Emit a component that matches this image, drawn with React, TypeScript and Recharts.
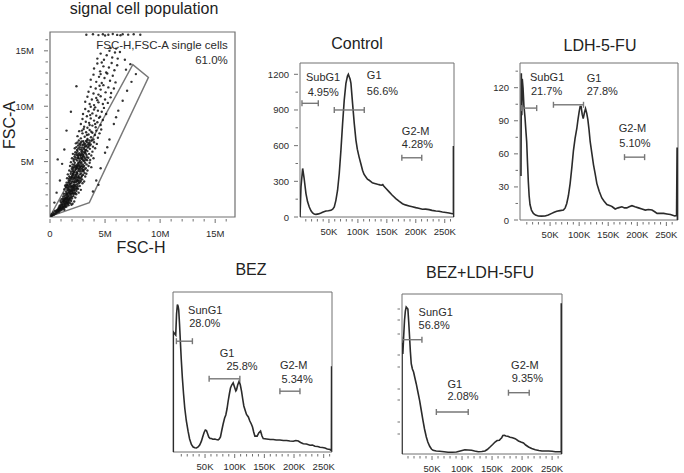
import React from 'react';
import { ComposedChart, Line, Scatter, XAxis, YAxis, ReferenceArea } from 'recharts';

const FONT = '"Liberation Sans", Arial, Helvetica, sans-serif';
const INK = '#2b2b2b';
const FRAME = '#707070';
const GATE = '#777777';

// ---- FSC-H (x, M) vs FSC-A (y, M) single-cell dots
const cells: [number, number][] = [
  [0.1,0.1],[0.2,0.12],[0.25,0.22],[0.35,0.2],[0.4,0.33],[0.5,0.3],[0.55,0.45],[0.62,0.38],[0.7,0.52],[0.78,0.44],
  [0.8,0.63],[0.88,0.55],[0.92,0.74],[1.0,0.62],[1.05,0.85],[1.12,0.7],[1.18,0.93],[1.25,0.8],[0.6,0.6],[0.72,0.7],
  [0.85,0.82],[0.95,0.92],[1.3,0.66],[1.4,0.9],[0.45,0.55],[0.3,0.4],[1.5,0.95],[0.15,0.25],
  [0.9,1.05],[1.0,1.3],[1.05,1.6],[1.1,1.15],[1.15,1.45],[1.2,1.85],[1.25,1.25],[1.3,1.55],[1.32,1.02],[1.38,1.75],
  [1.42,1.35],[1.48,1.95],[1.5,1.1],[1.55,1.6],[1.6,1.3],[1.62,1.85],[1.68,1.05],[1.72,1.5],[1.78,1.72],[1.82,1.25],
  [1.88,1.95],[1.92,1.45],[2.0,1.68],[2.05,1.2],[2.12,1.88],[2.2,1.4],[1.35,1.2],[1.45,1.5],[1.58,1.42],[1.7,1.9],
  [1.4,1.62],[1.65,1.55],[1.85,1.58],[1.52,1.78],[1.28,1.38],[1.18,1.68],[1.95,1.1],[2.3,1.75],[0.95,1.45],
  [1.25,2.1],[1.3,2.5],[1.38,2.85],[1.45,2.3],[1.5,2.65],[1.55,2.05],[1.6,2.9],[1.65,2.4],[1.7,2.15],[1.75,2.7],
  [1.8,2.35],[1.85,2.95],[1.9,2.1],[1.95,2.55],[2.0,2.8],[2.05,2.25],[2.1,2.6],[2.15,2.05],[2.2,2.9],[2.25,2.45],
  [2.3,2.15],[2.35,2.75],[2.4,2.35],[2.48,2.95],[2.55,2.55],[2.6,2.2],[2.7,2.8],[2.8,2.45],[1.72,2.52],[1.88,2.78],
  [2.02,2.42],[2.18,2.68],[1.62,2.62],[1.98,2.12],[2.12,2.88],[2.28,2.58],[1.42,2.72],[2.45,2.62],[1.82,2.22],[2.38,2.05],
  [1.5,3.1],[1.55,3.5],[1.62,3.85],[1.7,3.3],[1.75,3.65],[1.8,3.05],[1.88,3.9],[1.92,3.45],[1.98,3.2],[2.02,3.75],
  [2.08,3.4],[2.12,3.95],[2.18,3.1],[2.22,3.6],[2.28,3.3],[2.32,3.85],[2.38,3.15],[2.42,3.55],[2.48,3.9],[2.52,3.35],
  [2.58,3.7],[2.62,3.05],[2.68,3.5],[2.72,3.85],[2.8,3.25],[2.85,3.6],[2.92,3.4],[3.0,3.8],[3.1,3.2],[3.2,3.65],
  [2.05,3.55],[2.25,3.15],[2.45,3.25],[2.55,3.55],[2.35,3.65],[2.15,3.75],[1.85,3.58],[2.65,3.3],[2.95,3.05],[3.3,3.9],
  [1.75,4.2],[1.82,4.6],[1.9,4.95],[1.98,4.35],[2.05,4.75],[2.1,4.1],[2.18,4.5],[2.25,4.9],[2.3,4.25],[2.38,4.65],
  [2.42,4.05],[2.5,4.45],[2.55,4.85],[2.62,4.3],[2.68,4.7],[2.72,4.1],[2.8,4.55],[2.85,4.95],[2.9,4.35],[2.98,4.75],
  [3.05,4.15],[3.1,4.6],[3.18,4.9],[3.25,4.4],[3.32,4.75],[3.4,4.2],[3.5,4.6],[3.6,4.9],[2.45,4.55],[2.65,4.95],
  [2.75,4.4],[2.95,4.55],[2.2,4.7],[3.0,4.25],[2.6,4.6],[2.35,4.45],[3.15,4.3],[3.75,4.5],
  [2.0,5.3],[2.08,5.7],[2.15,5.05],[2.22,5.45],[2.3,5.85],[2.38,5.2],[2.45,5.6],[2.5,5.95],[2.58,5.35],[2.65,5.75],
  [2.7,5.1],[2.78,5.5],[2.85,5.9],[2.9,5.25],[2.98,5.65],[3.05,5.05],[3.12,5.45],[3.18,5.85],[3.25,5.2],[3.32,5.6],
  [3.4,5.95],[3.48,5.35],[3.55,5.7],[3.65,5.15],[3.75,5.55],[3.85,5.9],[2.75,5.6],[2.95,5.4],[3.15,5.3],[2.55,5.5],
  [3.35,5.4],[2.88,5.75],[3.05,5.85],[3.95,5.3],
  [2.25,6.2],[2.35,6.65],[2.45,6.05],[2.55,6.45],[2.62,6.9],[2.7,6.3],[2.8,6.7],[2.88,6.1],[2.95,6.5],[3.02,6.85],
  [3.1,6.25],[3.18,6.6],[3.25,6.05],[3.32,6.45],[3.4,6.95],[3.48,6.3],[3.55,6.7],[3.62,6.15],[3.7,6.55],[3.8,6.9],
  [3.9,6.35],[4.0,6.75],[4.1,6.2],[3.05,6.55],[3.35,6.75],[2.75,6.5],[3.15,6.4],[3.6,6.45],[4.25,6.6],
  [2.5,7.3],[2.65,7.75],[2.8,7.1],[2.95,7.55],[3.05,7.95],[3.15,7.25],[3.28,7.65],[3.4,7.05],[3.5,7.45],[3.6,7.85],
  [3.72,7.2],[3.85,7.6],[3.95,7.0],[4.08,7.4],[4.2,7.8],[4.35,7.15],[4.5,7.55],[3.35,7.4],[3.75,7.7],[4.65,7.9],[2.9,7.8],
  [2.8,8.4],[2.95,8.85],[3.1,8.15],[3.25,8.6],[3.4,8.05],[3.55,8.5],[3.7,8.9],[3.85,8.25],[4.0,8.7],[4.15,8.1],
  [4.3,8.55],[4.45,8.95],[4.6,8.3],[4.8,8.75],[3.6,8.3],[4.1,8.4],
  [3.0,9.3],[3.2,9.75],[3.35,9.1],[3.5,9.55],[3.7,9.95],[3.85,9.35],[4.0,9.7],[4.2,9.15],[4.35,9.6],[4.55,9.05],
  [4.7,9.5],[4.9,9.85],[5.1,9.3],[4.1,9.9],[3.65,9.2],
  [3.2,10.4],[3.4,10.85],[3.6,10.2],[3.8,10.6],[4.0,10.1],[4.2,10.75],[4.4,10.35],[4.6,10.9],[4.8,10.2],[5.0,10.6],
  [5.25,10.3],[5.5,10.8],[4.3,10.55],
  [3.5,11.3],[3.7,11.75],[3.95,11.15],[4.15,11.6],[4.4,11.05],[4.6,11.5],[4.85,11.9],[5.05,11.25],[5.3,11.7],[5.55,11.2],
  [5.8,11.6],[4.5,11.85],
  [3.7,12.4],[3.95,12.85],[4.2,12.2],[4.45,12.65],[4.7,12.1],[4.95,12.55],[5.2,12.95],[5.45,12.3],[5.7,12.75],[5.95,12.15],[4.6,12.9],
  [4.0,13.4],[4.3,13.85],[4.55,13.15],[4.85,13.6],[5.1,13.05],[5.35,13.5],[5.6,13.9],[5.85,13.25],[6.1,13.7],[4.7,13.95],
  [4.3,14.3],[4.6,14.75],[4.9,14.2],[5.15,14.6],[5.4,15.0],[5.65,14.4],[5.9,14.85],[6.15,14.3],[6.35,14.9],[5.5,15.25],[6.0,15.2],
  [3.3,16.45],[3.9,16.5],[4.4,16.42],[4.8,16.5],[5.3,16.45],[5.7,16.52],[6.1,16.44],[6.6,16.5],[7.1,16.46],[7.6,16.5],
  [8.2,16.45],[5.0,16.38],[6.4,16.4],
  [3.9,2.3],[4.2,3.3],[4.6,4.4],[5.0,5.8],[5.4,7.0],[5.8,8.4],[6.2,9.6],[6.6,10.5],[7.0,11.4],[7.4,12.2],
  [7.8,12.9],[6.9,13.3],[4.4,2.9],[5.2,6.3],[6.0,9.0],[0.4,1.3],[0.6,2.2],[0.9,3.3],[1.1,4.8],[1.3,6.1],
  [1.5,7.8],[0.7,5.2],[1.9,9.5],[2.4,11.8],[6.8,14.2],[7.3,13.8],
];
// extra dots in the dense core of the cloud
const coreCells: [number, number][] = [
  [0.66,0.58],[0.74,0.61],[0.83,0.71],[0.97,0.78],[1.08,0.97],[1.16,1.08],[1.21,0.88],[1.33,1.12],[1.44,1.21],[1.36,0.97],
  [1.02,1.12],[0.87,0.96],[1.27,1.47],[1.47,1.38],[1.56,1.27],[1.13,1.33],[0.79,0.83],[1.71,1.36],[1.64,1.18],[1.09,0.76],
  [1.23,1.58],[1.37,1.66],[1.49,1.69],[1.61,1.71],[1.74,1.63],[1.86,1.77],[1.97,1.83],[1.33,1.91],[1.57,2.03],[1.69,2.28],
  [1.79,2.08],[1.91,2.31],[2.09,2.14],[2.17,2.38],[2.24,2.21],[1.53,2.18],[1.41,2.09],[1.63,2.77],[1.77,2.88],[1.93,2.68],
  [2.07,2.71],[2.23,2.77],[2.33,2.91],[1.83,2.46],[1.97,2.37],[2.13,2.49],[1.57,2.47],[2.41,2.53],[2.51,2.78],[1.49,2.89],
  [1.67,3.13],[1.83,3.27],[1.96,3.08],[2.11,3.22],[2.27,3.47],[2.41,3.38],[2.57,3.21],[2.71,3.13],[1.73,3.46],[1.97,3.62],
  [2.19,3.51],[2.37,3.77],[2.61,3.62],[2.77,3.47],[2.89,3.71],[1.91,4.08],[2.07,4.22],[2.23,4.07],[2.39,4.33],[2.57,4.16],
  [2.77,4.23],[2.93,4.12],[2.13,4.38],[2.31,4.57],[2.49,4.71],[2.71,4.51],[2.87,4.62],[3.03,4.48],[2.03,4.51],[2.59,4.37],
  [2.81,4.83],[2.47,3.97],[2.07,3.89],[2.83,3.93],[3.13,3.97],
  [2.17,5.21],[2.33,5.37],[2.47,5.09],[2.63,5.27],[2.81,5.33],[2.97,5.17],[3.13,5.09],[2.27,5.63],[2.43,5.78],[2.61,5.63],
  [2.83,5.62],[3.01,5.53],[3.23,5.73],[2.39,6.31],[2.57,6.18],[2.73,6.09],[2.91,6.27],[3.09,6.13],[3.27,6.37],[2.67,6.61],
  [2.87,6.83],[3.07,6.71],[3.27,6.87],[3.47,6.57],[2.53,5.33],[3.37,5.13],[2.93,5.97],[3.21,6.01],[2.49,6.73],[3.59,6.91],
];
const singleCellGate: [number, number][] = [[0, 0.05], [3.57, 1.3], [8.94, 12.6], [7.52, 13.75], [0, 0.05]];
const fscXTicks = [0,1,2,3,4,5,6,7,8,9,10,11,12,13,14,15,16];
const fscYTicks = [1,2,3,4,5,6,7,8,9,10,11,12,13,14,15,16];
const fscMajors = [0, 5, 10, 15];

// ---- DNA histograms: [signal (K), count]
const controlCurve: [number, number][] = [
  [0,0],[1.7,253],[4.6,408],[7,330],[10.3,197],[13,130],[16,84],[19,52],[21.8,34],[24.5,26],[27.6,22],[32,26],
  [36.2,34],[40,42],[44.8,51],[49,53],[53.4,56],[56.5,66],[59.2,84],[62,140],[64.9,225],[67.8,366],[70.7,562],
  [73.6,787],[76.4,983],[79.3,1124],[82,1186],[83.5,1200],[85,1180],[86.5,1160],[88,1124],[90.8,955],[93.7,787],
  [96.6,647],[99,570],[102,506],[105,450],[108,394],[110.5,360],[113.8,337],[116.5,318],[119.5,309],[122,300],
  [125,287],[129,282],[134,275],[138,270],[141.4,267],[143,272],[145,259],[149,238],[154,211],[159,185],[165.5,155],
  [171,133],[177,112],[182,102],[188.5,93],[194,86],[200,79],[205,74],[211.5,65],[217,66],[223,62],[228,56],
  [234.6,51],[240,48],[246,42],[252,38],[257.5,34],[263,28],[265,30],[265,590],[265.6,590],[265.6,0],
];
const ldhCurve: [number, number][] = [
  [0,40],[0.6,133],[1.4,95],[2.2,128],[3.5,120],[5,104],[6.9,93],[8.3,82],[9.8,71],[11.2,52],[12.6,35],[14,22],
  [15.5,14],[18,9],[21.3,6],[25,4.5],[29.9,3.6],[35,3.5],[41.4,3.6],[47,4.5],[52.9,6],[57,7],[61.5,8],[67,8.5],
  [73,9],[76,11],[78.7,15],[81.5,22],[84.5,33],[87.5,48],[90.2,63],[93,74],[96,83],[98,91],[100,98],[101.7,103],
  [103.4,103],[105.2,96],[107,92],[109,97],[111,101],[113,97],[115,91],[117,82],[119,71],[122,60],[124.7,50],
  [127.5,42],[130.5,33],[134.5,26],[139,20],[143,17],[147.7,14],[153.4,13],[157,12],[162,10],[167,11],[173.6,12],
  [178,11],[182,11],[186,12],[190.8,13],[196,12],[202,11],[208,10],[213.8,9],[219,9.5],[225.3,9],[230,7.5],[234,6],
  [240,6],[245.4,6],[251,5.5],[257,5],[264.4,3.6],[267.5,4],[268.4,65],[269,65],[269,0],
];
const bezCurve: [number, number][] = [
  [-3.5,0],[-3.5,120],[0.6,117],[2,138],[3.4,147.5],[4.5,146],[5.6,142.5],[7,128],[8.4,110.8],[10,92],[11.8,74],
  [13.8,58],[15.8,44],[18.5,31],[21.4,20.8],[24,13],[27,7.5],[30,5],[32.7,4.2],[35.5,4],[38.3,5],[41,7],[43.9,10.8],
  [46,15],[48.4,19.5],[50.5,22],[52.4,21.5],[54.5,18],[56.3,15],[58.5,13.5],[60.8,13.5],[63,12.8],[66.4,13],[69,12.5],
  [72.1,12.2],[74,13],[76,15],[78,21],[80.5,28],[83,34],[85,37],[87,43],[89,51],[91,58],[92.9,64],[95,67],[97.4,69.2],
  [99.1,66],[101.9,61],[103,62],[105,67],[107.5,70.8],[109.5,67],[111.5,60.8],[113.5,53],[115.4,46],[118,41],
  [119.9,37.5],[123,35],[125.5,31],[128,28],[130,25],[132,20],[134,15.8],[136,16],[137.9,15.8],[140.5,19],[143.6,21],
  [146,16],[148.1,13.5],[153.7,13],[160,12.5],[165,12.5],[170,12],[176.2,12],[182,11.5],[187.5,11.5],[193,11],
  [198.7,10.8],[203,11.5],[207.2,11],[211,9.5],[215.6,8.2],[221,8],[226.9,6.8],[231,7],[235.3,5.8],[240,5.5],
  [243.8,4.8],[248,4.5],[252.2,4],[256,3],[260.7,2.5],[263,1.5],[263.3,85],[263.8,85],[263.8,0],
];
const comboCurve: [number, number][] = [
  [0,0],[0,114],[1.4,100],[2.8,118],[4.2,133.7],[5.6,143],[7,147],[8.4,146],[9.8,145],[11.2,132],[12.6,117],[14,102],
  [15.4,90.3],[17.3,85],[19.3,82],[21.5,76],[23.7,70.3],[26.5,62],[29.3,53.7],[32,44],[34.9,33.7],[37.5,25],[40.5,17],
  [43,12],[46.1,7.7],[49,5],[51.7,3.7],[57,3],[62.8,2.7],[70,2.2],[76.8,1.7],[84,1.8],[90.7,2],[97,3],[104.7,4.3],
  [110,4],[115.9,3.7],[121,3],[127,2.3],[133,2.5],[138.2,3],[142,4.5],[146.6,7],[151,9.5],[155,12],[158.5,13.5],
  [162.2,13.7],[164,15],[166.1,16.3],[168,18.5],[170.6,18.7],[173,18],[176.2,17.7],[180,16.8],[184,16.3],[188.5,15.3],
  [194,13],[198,12],[202.4,11],[206,9],[210.8,7],[216,5.5],[222,4.3],[228,3.5],[233.1,3],[238,3],[244.3,3],[250,2.7],
  [255.4,2.3],[260,2.3],[263.8,2.3],[265.3,2.3],[265.3,150],[265.8,150],[265.8,0],
];

// gates: [from K, to K, bar height]
const controlGates: [number, number, number][] = [[3.4, 31.6, 956], [59.2, 111, 900], [175.9, 210.3, 498]];
const ldhGates: [number, number, number][] = [[1.1, 27, 101.5], [55.8, 107.5, 104.5], [178, 212.6, 57]];
const bezGates: [number, number, number][] = [[1.7, 28.7, 110.8], [56.9, 108.7, 73.2], [176.2, 210, 60.8]];
const comboGates: [number, number, number][] = [[0, 33.2, 114.3], [57.2, 110.3, 42], [177.3, 211.9, 61.3]];

// gate labels: [K, count, text]
const controlNotes: [number, number, string][] = [
  [10.3, 1180, 'SubG1'], [13.2, 1054, '4.95%'], [115.5, 1194, 'G1'], [115.5, 1062, '56.6%'], [175.9, 725, 'G2-M'], [175.9, 610, '4.28%'],
];
const ldhNotes: [number, number, string][] = [
  [15.5, 130, 'SubG1'], [17.2, 117, '21.7%'], [113, 128.7, 'G1'], [113, 116.6, '27.8%'], [168, 83.5, 'G2-M'], [169, 70, '5.10%'],
];
const bezNotes: [number, number, string][] = [
  [21.4, 142.5, 'SunG1'], [23.2, 129.2, '28.0%'], [74.9, 99.2, 'G1'], [86.1, 86.5, '25.8%'], [176.2, 87.5, 'G2-M'], [179, 73.5, '5.34%'],
];
const comboNotes: [number, number, string][] = [
  [27.6, 142, 'SunG1'], [27.6, 128.7, '56.8%'], [75.7, 70.3, 'G1'], [75.7, 57.7, '2.08%'], [181.7, 88.7, 'G2-M'], [182.8, 76, '9.35%'],
];

const histXTicks = [10,20,30,40,50,60,70,80,90,100,110,120,130,140,150,160,170,180,190,200,210,220,230,240,250,260];
const histXMajors = [50, 100, 150, 200, 250];
const controlYTicks = [0, 150, 300, 450, 600, 750, 900, 1050, 1200];
const controlYMajors = [0, 300, 600, 900, 1200];
const ldhYTicks = [0, 15, 30, 45, 60, 75, 90, 105, 120, 135];
const ldhYMajors = [0, 30, 60, 90, 120];
const comboYTicks = [20, 32, 54, 65, 87, 99, 120, 134, 145];

const TICK_FONT = 9.5;

const xTick = (majors: number[], fmt: (v: number) => string, gap: number) => (p: any) => {
  const v = p.payload.value;
  const major = majors.includes(v);
  return (
    <g>
      <line x1={p.x} x2={p.x} y1={p.y} y2={p.y + (major ? 4 : 2.5)} stroke={FRAME} />
      {major && (
        <text x={p.x} y={p.y + gap} textAnchor="middle" dominantBaseline="central"
          fontSize={TICK_FONT} fontFamily={FONT} fill={INK}>{fmt(v)}</text>
      )}
    </g>
  );
};

const yTick = (majors: number[], fmt: (v: number) => string, gap: number) => (p: any) => {
  const v = p.payload.value;
  const major = majors.includes(v);
  return (
    <g>
      <line x1={p.x} x2={p.x - (major ? 4 : 2.5)} y1={p.y} y2={p.y} stroke={FRAME} />
      {major && (
        <text x={p.x - gap} y={p.y} textAnchor="end" dominantBaseline="central"
          fontSize={TICK_FONT} fontFamily={FONT} fill={INK}>{fmt(v)}</text>
      )}
    </g>
  );
};

const capDot = (p: any) => (
  <line key={`cap-${p.index}`} x1={p.cx} x2={p.cx} y1={p.cy - 3} y2={p.cy + 3} stroke={GATE} strokeWidth={1.4} />
);

const noteShape = (size: number, anchor: string) => (p: any) => (
  <text x={p.cx} y={p.cy} textAnchor={anchor} dominantBaseline="central"
    fontSize={size} fontFamily={FONT} fill={INK}>{p.payload.text}</text>
);

const cellDot = (p: any) => <circle cx={p.cx} cy={p.cy} r={1.2} fill="#111" fillOpacity={0.85} />;

type Box = { x: number; y: number; w: number; h: number };

const YW = 40;
const MT = 4;
const XH = 20;

function Histogram(props: {
  box: Box; xDomain: [number, number]; yMax: number; curve: [number, number][];
  gates: [number, number, number][]; notes: [number, number, string][];
  yTicks?: number[]; yMajors?: number[]; mr: number;
}) {
  const { box, xDomain, yMax, curve, gates, notes, yTicks, yMajors, mr } = props;
  const data = curve.map(([x, y]) => ({ x, y }));
  const noteData = notes.map(([x, y, text]) => ({ x, y, text }));
  return (
    <div style={{ position: 'absolute', left: box.x - YW, top: box.y - MT }}>
      <ComposedChart width={YW + box.w + mr} height={MT + box.h + XH}
        margin={{ top: MT, right: mr, bottom: 0, left: 0 }}>
        <XAxis type="number" dataKey="x" domain={xDomain} allowDataOverflow ticks={histXTicks} interval={0}
          tickSize={0} tickLine={false} axisLine={false} height={XH}
          tick={xTick(histXMajors, (v) => `${v}K`, 12)} />
        <YAxis type="number" dataKey="y" domain={[0, yMax]} allowDataOverflow width={YW}
          ticks={yTicks} interval={0} tickSize={0} tickLine={false} axisLine={false}
          tick={yTicks ? yTick(yMajors ?? [], (v) => `${v}`, 9) : false} />
        <ReferenceArea x1={xDomain[0]} x2={xDomain[1]} y1={0} y2={yMax} fill="none"
          stroke={FRAME} strokeWidth={1} ifOverflow="visible" />
        <Line data={data} dataKey="y" type="linear" stroke={INK} strokeWidth={1.6}
          dot={false} activeDot={false} isAnimationActive={false} />
        {gates.map(([a, b, h], i) => (
          <Line key={`gate-${i}`} data={[{ x: a, y: h }, { x: b, y: h }]} dataKey="y" type="linear"
            stroke={GATE} strokeWidth={1.4} dot={capDot} activeDot={false} isAnimationActive={false} />
        ))}
        <Scatter data={noteData} shape={noteShape(11, 'start')} isAnimationActive={false} />
      </ComposedChart>
    </div>
  );
}

function SingleCells() {
  const box: Box = { x: 50, y: 32, w: 185, h: 185 };
  const yw = 50;
  const data = [...cells, ...coreCells].map(([x, y]) => ({ x, y }));
  const gate = singleCellGate.map(([x, y]) => ({ x, y }));
  const gateNote = [
    { x: 16.15, y: 15.55, text: 'FSC-H,FSC-A single cells' },
    { x: 16.15, y: 14.2, text: '61.0%' },
  ];
  return (
    <div style={{ position: 'absolute', left: box.x - yw, top: box.y - MT }}>
      <ComposedChart width={yw + box.w + 10} height={MT + box.h + 22}
        margin={{ top: MT, right: 10, bottom: 0, left: 0 }}>
        <XAxis type="number" dataKey="x" domain={[0, 16.8]} allowDataOverflow ticks={fscXTicks} interval={0}
          tickSize={0} tickLine={false} axisLine={false} height={22}
          tick={xTick(fscMajors, (v) => (v === 0 ? '0' : `${v}M`), 14)} />
        <YAxis type="number" dataKey="y" domain={[0, 16.7]} allowDataOverflow width={yw}
          ticks={fscYTicks} interval={0} tickSize={0} tickLine={false} axisLine={false}
          tick={yTick(fscMajors, (v) => `${v}M`, 14)} />
        <ReferenceArea x1={0} x2={16.8} y1={0} y2={16.7} fill="none" stroke={FRAME} strokeWidth={1.2} ifOverflow="visible" />
        <Scatter data={data} shape={cellDot} isAnimationActive={false} />
        <Line data={gate} dataKey="y" type="linear" stroke="#777" strokeWidth={1.4}
          dot={false} activeDot={false} isAnimationActive={false} />
        <Scatter data={gateNote} shape={noteShape(11.5, 'end')} isAnimationActive={false} />
      </ComposedChart>
    </div>
  );
}

const Title = ({ x, y, text, size = 16, rotate = 0 }: { x: number; y: number; text: string; size?: number; rotate?: number }) => (
  <div style={{
    position: 'absolute', left: x, top: y, transform: `translate(-50%, -50%) rotate(${rotate}deg)`,
    whiteSpace: 'nowrap', fontSize: size, fontFamily: FONT, color: '#222', lineHeight: 1,
  }}>{text}</div>
);

export default function App() {
  return (
    <div style={{ position: 'relative', width: 684, height: 473, background: '#fff', overflow: 'hidden' }}>
      <style>{'body{margin:0}'}</style>
      <Title x={144} y={9} text="signal cell population" />
      <Title x={357} y={44} text="Control" />
      <Title x={600} y={46} text="LDH-5-FU" />
      <Title x={251} y={270} text="BEZ" />
      <Title x={480} y={273} text="BEZ+LDH-5FU" />
      <Title x={10} y={125} text="FSC-A" rotate={-90} />
      <Title x={141} y={248} text="FSC-H" />

      <SingleCells />
      <Histogram box={{ x: 300, y: 63, w: 154, h: 154 }} xDomain={[0, 266]} yMax={1295}
        curve={controlCurve} gates={controlGates} notes={controlNotes}
        yTicks={controlYTicks} yMajors={controlYMajors} mr={8} />
      <Histogram box={{ x: 520, y: 63, w: 158, h: 157 }} xDomain={[-1.7, 270]} yMax={142.4}
        curve={ldhCurve} gates={ldhGates} notes={ldhNotes}
        yTicks={ldhYTicks} yMajors={ldhYMajors} mr={6} />
      <Histogram box={{ x: 173, y: 292, w: 159, h: 160 }} xDomain={[-4, 264]} yMax={160}
        curve={bezCurve} gates={bezGates} notes={bezNotes} mr={8} />
      <Histogram box={{ x: 402, y: 294, w: 160, h: 160 }} xDomain={[0, 266.5]} yMax={160}
        curve={comboCurve} gates={comboGates} notes={comboNotes}
        yTicks={comboYTicks} yMajors={[]} mr={8} />
    </div>
  );
}
